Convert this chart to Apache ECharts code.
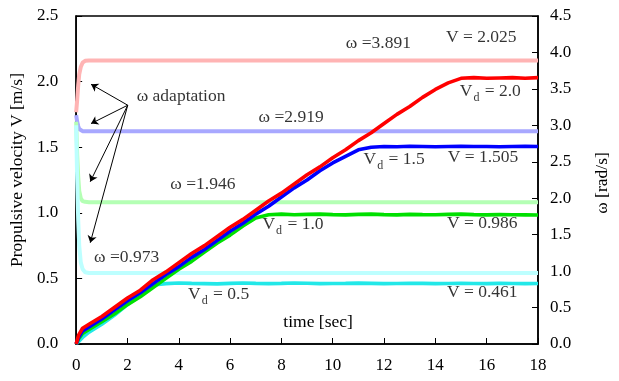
<!DOCTYPE html>
<html>
<head>
<meta charset="utf-8">
<script src="https://cdn.jsdelivr.net/npm/echarts@6/dist/echarts.min.js"></script>
<style>html,body{margin:0;padding:0;background:#fff}#c{width:619px;height:381px}</style>
</head>
<body>
<div id="c"></div>
<script>
// time axis (sec) for propulsive velocity series
var timeV = [0,0.1,0.25,0.5,1,1.5,2,2.5,3,3.5,4,4.5,5,5.5,6,6.5,7,7.5,8,8.5,9,9.5,10,10.5,11,11.5,12,12.5,13,13.5,14,14.5,15,15.5,16,16.5,17,17.5,18];
// V [m/s]
var vRed   = [0,0.07,0.12,0.15,0.21,0.28,0.35,0.41,0.49,0.55,0.62,0.69,0.75,0.82,0.89,0.95,1.02,1.09,1.15,1.22,1.29,1.35,1.42,1.48,1.55,1.61,1.68,1.75,1.81,1.88,1.94,1.99,2.025,2.03,2.025,2.028,2.03,2.025,2.03];
var vBlue  = [0,0.05,0.10,0.13,0.19,0.26,0.33,0.39,0.46,0.53,0.59,0.66,0.72,0.79,0.86,0.92,0.99,1.05,1.12,1.19,1.25,1.32,1.38,1.43,1.48,1.50,1.505,1.503,1.507,1.505,1.503,1.505,1.507,1.505,1.505,1.503,1.505,1.507,1.505];
var vGreen = [0,0.04,0.08,0.11,0.17,0.23,0.30,0.36,0.43,0.50,0.57,0.63,0.70,0.77,0.83,0.90,0.96,0.985,0.99,0.985,0.988,0.99,0.986,0.984,0.988,0.99,0.986,0.984,0.988,0.986,0.985,0.988,0.99,0.986,0.984,0.986,0.985,0.984,0.983];
var vCyan  = [0,0.02,0.05,0.09,0.15,0.22,0.30,0.38,0.45,0.46,0.465,0.462,0.46,0.458,0.462,0.465,0.462,0.46,0.462,0.465,0.463,0.46,0.461,0.462,0.464,0.462,0.46,0.461,0.463,0.462,0.46,0.461,0.462,0.461,0.46,0.462,0.461,0.46,0.461];
// time axis for omega series
var timeW = [0,0.04,0.08,0.12,0.18,0.25,0.35,0.5,18];
// omega [rad/s]
var wRed   = [3.18,3.35,3.55,3.70,3.80,3.86,3.885,3.891,3.891];
var wBlue  = [3.14,3.05,2.99,2.95,2.93,2.92,2.919,2.919,2.919];
var wGreen = [3.05,2.60,2.30,2.10,2.00,1.96,1.95,1.946,1.946];
var wCyan  = [3.00,2.25,1.70,1.35,1.12,1.03,0.985,0.975,0.973];
// axis ticks
var xTicks = {min:0,max:18,interval:2};
var vTicks = {min:0,max:2.5,interval:0.5};
var wTicks = {min:0,max:4.5,interval:0.5};
// annotations: [text, t, V]
var notes = [
  ['ω =3.891', 10.51, 2.294],
  ['V = 2.025', 14.41, 2.340],
  ['ω adaptation', 2.36, 1.89],
  ['ω =2.919', 7.11, 1.730],
  ['ω =1.946', 3.67, 1.22],
  ['ω =0.973', 0.70, 0.663],
  ['{m|V}{s|d}{m| = 0.5}', 4.36, 0.396],
  ['{m|V}{s|d}{m| = 1.0}', 7.26, 0.93],
  ['{m|V}{s|d}{m| = 1.5}', 11.2, 1.425],
  ['V = 1.505', 14.48, 1.425],
  ['{m|V}{s|d}{m| = 2.0}', 14.95, 1.944],
  ['V = 0.986', 14.45, 0.922],
  ['V = 0.461', 14.45, 0.396]
];
// arrows from the "ω adaptation" label
var arrowFrom = [2.01, 1.82];
var arrowTo = [[0.58,1.98],[0.58,1.68],[0.55,1.237],[0.55,0.772]];

var FONT = 'Liberation Serif';
var NOTE_SIZE = 17.5;
function pairs(t, v){ return t.map(function(x,i){ return [x, v[i]]; }); }
function wLine(name, data, color){
  return {name:name,type:'line',yAxisIndex:1,data:pairs(timeW,data),showSymbol:false,symbol:'none',
    lineStyle:{color:color,width:4},z:2,silent:true,animation:false};
}
function vLine(name, data, color){
  return {name:name,type:'line',yAxisIndex:0,data:pairs(timeV,data),showSymbol:false,symbol:'none',
    lineStyle:{color:color,width:3.6},z:3,silent:true,animation:false};
}
var chart = echarts.init(document.getElementById('c'));
var axisCommon = {
  axisLine:{show:true,lineStyle:{color:'#000',width:1.5}},
  axisTick:{show:true,inside:true,length:6,lineStyle:{color:'#000',width:1}},
  splitLine:{show:false},
  axisLabel:{color:'#000',fontFamily:FONT,fontSize:17}
};
chart.setOption({
  animation:false,
  backgroundColor:'#fff',
  grid:{left:75,right:78,top:16,bottom:37,show:true,borderColor:'#000',borderWidth:1.5,backgroundColor:'transparent'},
  xAxis:Object.assign({},axisCommon,{type:'value',min:xTicks.min,max:xTicks.max,interval:xTicks.interval,
    axisLabel:Object.assign({},axisCommon.axisLabel,{margin:13}),
    name:'time [sec]',nameLocation:'middle',nameGap:-31,
    nameTextStyle:{color:'#000',fontFamily:FONT,fontSize:NOTE_SIZE,padding:[0,0,0,22]}}),
  yAxis:[
    Object.assign({},axisCommon,{type:'value',min:vTicks.min,max:vTicks.max,interval:vTicks.interval,position:'left',
      axisLabel:Object.assign({},axisCommon.axisLabel,{margin:18,formatter:function(v){return v.toFixed(1);}}),
      name:'Propulsive velocity V [m/s]',nameLocation:'middle',nameGap:46,nameRotate:90,
      nameTextStyle:{color:'#000',fontFamily:FONT,fontSize:NOTE_SIZE,padding:[0,0,0,20]}}),
    Object.assign({},axisCommon,{type:'value',min:wTicks.min,max:wTicks.max,interval:wTicks.interval,position:'right',
      axisLabel:Object.assign({},axisCommon.axisLabel,{margin:12,formatter:function(v){return v.toFixed(1);}}),
      name:'ω [rad/s]',nameLocation:'middle',nameGap:55,nameRotate:90,
      nameTextStyle:{color:'#000',fontFamily:FONT,fontSize:NOTE_SIZE,padding:[0,6,0,0]}})
  ],
  series:[
    wLine('ω Vd=2.0',wRed,'#ffb4b4'),
    wLine('ω Vd=1.5',wBlue,'#a8a8ff'),
    wLine('ω Vd=1.0',wGreen,'#b4ffb4'),
    wLine('ω Vd=0.5',wCyan,'#bdffff'),
    vLine('Vd=0.5',vCyan,'#22e8e8'),
    vLine('Vd=1.0',vGreen,'#00e000'),
    vLine('Vd=1.5',vBlue,'#0000ff'),
    vLine('Vd=2.0',vRed,'#ff0000'),
    {type:'lines',coordinateSystem:'cartesian2d',silent:true,z:4,animation:false,
      symbol:['none','arrow'],symbolSize:7,
      lineStyle:{color:'#000',width:1,opacity:1},
      data:arrowTo.map(function(p){return {coords:[arrowFrom,p]};})},
    {type:'scatter',symbolSize:0,silent:true,z:5,animation:false,
      data:notes.map(function(n){return {value:[n[1],n[2]],label:{formatter:n[0]}};}),
      label:{show:true,position:'right',distance:0,color:'#000',fontFamily:FONT,fontSize:NOTE_SIZE,
        rich:{m:{fontFamily:FONT,fontSize:NOTE_SIZE,color:'#000',lineHeight:22,verticalAlign:'bottom'},
              s:{fontFamily:FONT,fontSize:12,color:'#000',lineHeight:22,verticalAlign:'bottom',padding:[0,1,-4,1]}}}}
  ]
});
</script>
</body>
</html>
